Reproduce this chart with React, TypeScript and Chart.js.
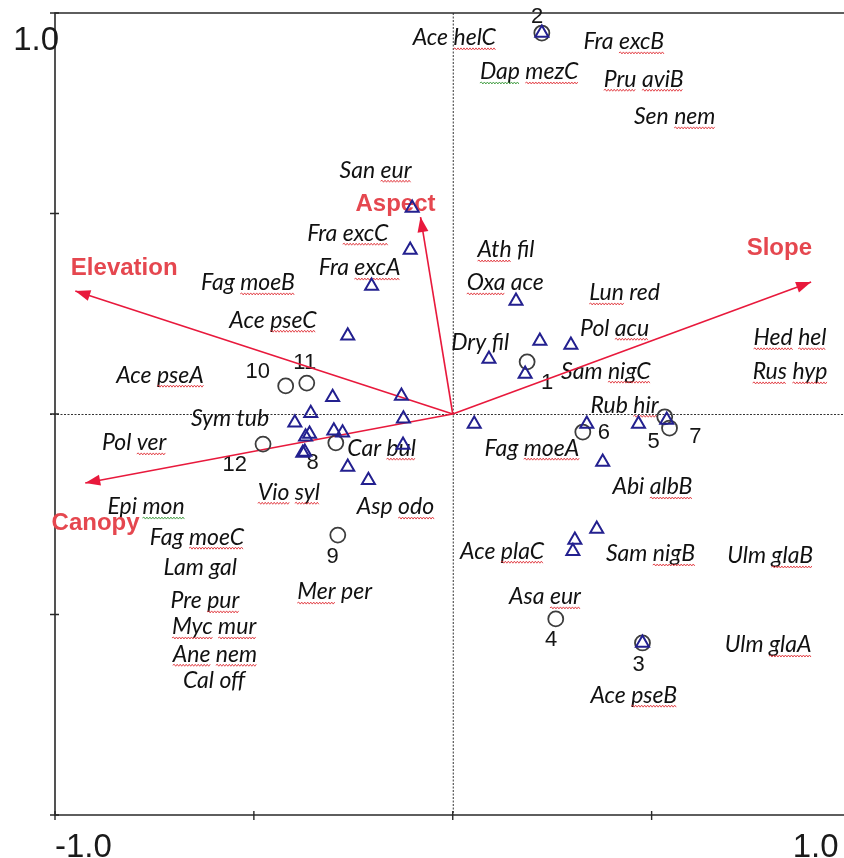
import React, { useEffect, useRef } from "react";
import { Chart, registerables } from "chart.js";

Chart.register(...registerables);

// ---- Species scores (triangles) ----
const speciesX = [-0.102, -0.107, -0.204, -0.264, -0.302, -0.129, -0.357, -0.124, -0.397, -0.36, -0.37, -0.299, -0.277, -0.372, -0.377, -0.125, -0.264, -0.212, 0.159, 0.219, 0.297, 0.091, 0.182, 0.054, 0.337, 0.467, 0.538, 0.377, 0.362, 0.307, 0.302, 0.224, 0.477];
const speciesY = [0.514, 0.409, 0.319, 0.195, 0.042, 0.045, 0.002, -0.012, -0.022, -0.05, -0.057, -0.042, -0.047, -0.095, -0.097, -0.077, -0.132, -0.165, 0.282, 0.182, 0.172, 0.137, 0.1, -0.025, -0.025, -0.025, -0.015, -0.12, -0.287, -0.314, -0.342, 0.95, -0.571];

// ---- Sample scores (circles) ----
const siteNames = ["1", "2", "3", "4", "5", "6", "7", "8", "9", "10", "11", "12"];
const siteX = [0.187, 0.224, 0.477, 0.259, 0.533, 0.327, 0.545, -0.294, -0.289, -0.42, -0.367, -0.477];
const siteY = [0.13, 0.95, -0.571, -0.511, -0.007, -0.045, -0.035, -0.072, -0.302, 0.07, 0.077, -0.075];
const siteLabelX = [0.237, 0.212, 0.467, 0.247, 0.505, 0.38, 0.61, -0.352, -0.302, -0.49, -0.372, -0.548];
const siteLabelY = [0.077, 0.99, -0.626, -0.564, -0.07, -0.047, -0.057, -0.122, -0.357, 0.105, 0.127, -0.127];

// ---- Environmental variables (arrows) ----
const envNames = ["Elevation", "Canopy", "Aspect", "Slope"];
const envX = [-0.949, -0.924, -0.081, 0.901];
const envY = [0.307, -0.172, 0.491, 0.329];
const envLabelX = [-0.826, -0.898, -0.144, 0.821];
const envLabelY = [0.364, -0.272, 0.524, 0.414];

// ---- Species labels ----
const speciesNames = ["Ace helC", "Fra excB", "Dap mezC", "Pru aviB", "Sen nem", "Ath fil", "Oxa ace", "Lun red", "Pol acu", "Dry fil", "Sam nigC", "Rub hir", "Fag moeA", "Abi albB", "Hed hel", "Rus hyp", "Ace plaC", "Sam nigB", "Ulm glaB", "Asa eur", "Ulm glaA", "Ace pseB", "San eur", "Fra excC", "Fra excA", "Fag moeB", "Ace pseC", "Ace pseA", "Sym tub", "Pol ver", "Car bul", "Vio syl", "Epi mon", "Asp odo", "Fag moeC", "Lam gal", "Mer per", "Pre pur", "Myc mur", "Ane nem", "Cal off"];
const speciesLabelX = [0.004, 0.43, 0.192, 0.48, 0.558, 0.134, 0.132, 0.432, 0.407, 0.069, 0.385, 0.432, 0.199, 0.502, 0.848, 0.848, 0.124, 0.497, 0.798, 0.232, 0.793, 0.455, -0.194, -0.264, -0.234, -0.515, -0.452, -0.736, -0.56, -0.801, -0.179, -0.412, -0.771, -0.144, -0.643, -0.635, -0.297, -0.623, -0.6, -0.598, -0.6];
const speciesLabelY = [0.938, 0.928, 0.853, 0.835, 0.741, 0.409, 0.327, 0.302, 0.214, 0.177, 0.107, 0.022, -0.085, -0.182, 0.19, 0.105, -0.342, -0.349, -0.354, -0.456, -0.576, -0.701, 0.608, 0.451, 0.364, 0.327, 0.234, 0.097, -0.012, -0.072, -0.085, -0.195, -0.232, -0.232, -0.307, -0.382, -0.444, -0.466, -0.531, -0.599, -0.666];
// spell-check squiggles per word: r = red, g = green, - = none
const speciesMarks = ["-r", "-r", "gr", "rr", "-r", "r-", "r-", "r-", "-r", "--", "-r", "-r", "-r", "-r", "rr", "rr", "-r", "-r", "-r", "-r", "-r", "-r", "-r", "-r", "-r", "-r", "-r", "-r", "--", "-r", "-r", "rr", "-g", "-r", "-r", "--", "r-", "-r", "rr", "rr", "--"];

// ---- Axis ticks ----
const tickValues = [-1, -0.5, 0, 0.5, 1];
const axisLabelTop = "1.0";
const axisLabelLeft = "-1.0";
const axisLabelRight = "1.0";

const RED_ARROW = "#e8193c";
const RED_TEXT = "#e5474f";
const NAVY = "#23208f";

function squiggle(ctx: CanvasRenderingContext2D, x0: number, x1: number, y: number, color: string) {
  ctx.save();
  ctx.strokeStyle = color;
  ctx.lineWidth = 0.9;
  ctx.setLineDash([]);
  ctx.beginPath();
  let up = true;
  ctx.moveTo(x0, y);
  for (let x = x0 + 1.5; x <= x1; x += 1.5) {
    ctx.lineTo(x, up ? y - 1 : y + 1);
    up = !up;
  }
  ctx.stroke();
  ctx.restore();
}

const overlayPlugin = {
  id: "overlay",
  beforeDatasetsDraw(chart: any) {
    const ctx: CanvasRenderingContext2D = chart.ctx;
    const xs = chart.scales.x;
    const ys = chart.scales.y;
    const a = chart.chartArea;
    const px = (v: number) => xs.getPixelForValue(v);
    const py = (v: number) => ys.getPixelForValue(v);
    ctx.save();
    // zero lines
    ctx.strokeStyle = "#333";
    ctx.lineWidth = 1;
    ctx.setLineDash([2, 1.5]);
    ctx.beginPath();
    ctx.moveTo(px(0) + 0.5, a.top);
    ctx.lineTo(px(0) + 0.5, a.bottom);
    ctx.moveTo(a.left - 5, py(0) + 0.5);
    ctx.lineTo(a.right, py(0) + 0.5);
    ctx.stroke();
    ctx.setLineDash([]);
    // frame
    ctx.strokeStyle = "#2a2a2a";
    ctx.lineWidth = 1.6;
    ctx.beginPath();
    ctx.moveTo(a.left, a.top);
    ctx.lineTo(a.right, a.top);
    ctx.lineTo(a.right, a.bottom);
    ctx.lineTo(a.left, a.bottom);
    ctx.closePath();
    ctx.stroke();
    // ticks
    ctx.lineWidth = 1.4;
    ctx.beginPath();
    tickValues.forEach((t) => {
      ctx.moveTo(a.left - 5, py(t));
      ctx.lineTo(a.left + 4, py(t));
      ctx.moveTo(px(t), a.bottom - 4);
      ctx.lineTo(px(t), a.bottom + 5);
    });
    ctx.stroke();
    // axis labels
    ctx.fillStyle = "#1a1a1a";
    ctx.font = '33px "Liberation Sans", Arial, sans-serif';
    ctx.textBaseline = "alphabetic";
    ctx.textAlign = "right";
    ctx.fillText(axisLabelTop, a.left + 4, py(1) + 37);
    ctx.textAlign = "left";
    ctx.fillText(axisLabelLeft, px(-1), a.bottom + 42);
    ctx.textAlign = "right";
    ctx.fillText(axisLabelRight, px(1) - 12, a.bottom + 42);

    // species labels
    const fs = 23;
    ctx.font = `italic ${fs}px Lato, "Open Sans", sans-serif`;
    ctx.textAlign = "left";
    ctx.textBaseline = "middle";
    speciesNames.forEach((name, i) => {
      const cx = px(speciesLabelX[i]);
      const cy = py(speciesLabelY[i]);
      const w = ctx.measureText(name).width;
      const x0 = cx - w / 2;
      ctx.fillStyle = "#111";
      ctx.fillText(name, x0, cy);
      const words = name.split(" ");
      let off = 0;
      words.forEach((word, k) => {
        const ww = ctx.measureText(word).width;
        const m = speciesMarks[i][k];
        if (m === "r" || m === "g") {
          squiggle(ctx, x0 + off, x0 + off + ww, cy + fs * 0.48, m === "r" ? "#e0333a" : "#3c9a3c");
        }
        off += ww + ctx.measureText(" ").width;
      });
    });

    // site labels
    ctx.font = '22px "Liberation Sans", Arial, sans-serif';
    ctx.textAlign = "center";
    ctx.fillStyle = "#151515";
    siteNames.forEach((s, i) => {
      ctx.fillText(s, px(siteLabelX[i]), py(siteLabelY[i]));
    });

    // env labels
    ctx.font = 'bold 24px "Liberation Sans", Arial, sans-serif';
    ctx.fillStyle = RED_TEXT;
    envNames.forEach((s, i) => {
      ctx.fillText(s, px(envLabelX[i]), py(envLabelY[i]));
    });
    ctx.restore();
  },
  afterDatasetsDraw(chart: any) {
    const ctx: CanvasRenderingContext2D = chart.ctx;
    const xs = chart.scales.x;
    const ys = chart.scales.y;
    ctx.save();
    ctx.fillStyle = RED_ARROW;
    envNames.forEach((_, i) => {
      const x1 = xs.getPixelForValue(envX[i]);
      const y1 = ys.getPixelForValue(envY[i]);
      const x0 = xs.getPixelForValue(0);
      const y0 = ys.getPixelForValue(0);
      const ang = Math.atan2(y1 - y0, x1 - x0);
      const L = 15;
      const W = 5.5;
      ctx.beginPath();
      ctx.moveTo(x1, y1);
      ctx.lineTo(x1 - L * Math.cos(ang) + W * Math.sin(ang), y1 - L * Math.sin(ang) - W * Math.cos(ang));
      ctx.lineTo(x1 - L * Math.cos(ang) - W * Math.sin(ang), y1 - L * Math.sin(ang) + W * Math.cos(ang));
      ctx.closePath();
      ctx.fill();
    });
    ctx.restore();
  },
};

export default function App() {
  const ref = useRef<HTMLCanvasElement | null>(null);
  useEffect(() => {
    if (!ref.current) return;
    const arrowSets = envNames.map((n, i) => ({
      type: "line" as const,
      label: n,
      data: [
        { x: 0, y: 0 },
        { x: envX[i], y: envY[i] },
      ],
      borderColor: RED_ARROW,
      borderWidth: 1.6,
      pointRadius: 0,
      showLine: true,
      fill: false,
      order: 3,
    }));
    const chart = new Chart(ref.current, {
      type: "scatter",
      data: {
        datasets: [
          {
            label: "species",
            data: speciesX.map((x, i) => ({ x, y: speciesY[i] })),
            pointStyle: "triangle",
            pointRadius: 7.5,
            borderColor: NAVY,
            backgroundColor: "rgba(0,0,0,0)",
            borderWidth: 2,
            order: 1,
          } as any,
          {
            label: "samples",
            data: siteX.map((x, i) => ({ x, y: siteY[i] })),
            pointStyle: "circle",
            pointRadius: 7.5,
            borderColor: "#3d3d3d",
            backgroundColor: "rgba(0,0,0,0)",
            borderWidth: 1.8,
            order: 2,
          } as any,
          ...arrowSets,
        ],
      },
      options: {
        animation: false,
        responsive: false,
        devicePixelRatio: 1,
        layout: { padding: { left: 55, right: 8, top: 13, bottom: 43 } },
        scales: {
          x: { type: "linear", min: -1, max: 1, display: false },
          y: { type: "linear", min: -1, max: 1, display: false },
        },
        plugins: { legend: { display: false }, tooltip: { enabled: false } },
        events: [],
      } as any,
      plugins: [overlayPlugin],
    });
    return () => chart.destroy();
  }, []);
  return (
    <div style={{ position: "fixed", left: 0, top: 0, width: 844, height: 858, overflow: "hidden", background: "#fff" }}>
      <canvas ref={ref} width={860} height={858} style={{ width: 860, height: 858, display: "block" }} />
    </div>
  );
}
